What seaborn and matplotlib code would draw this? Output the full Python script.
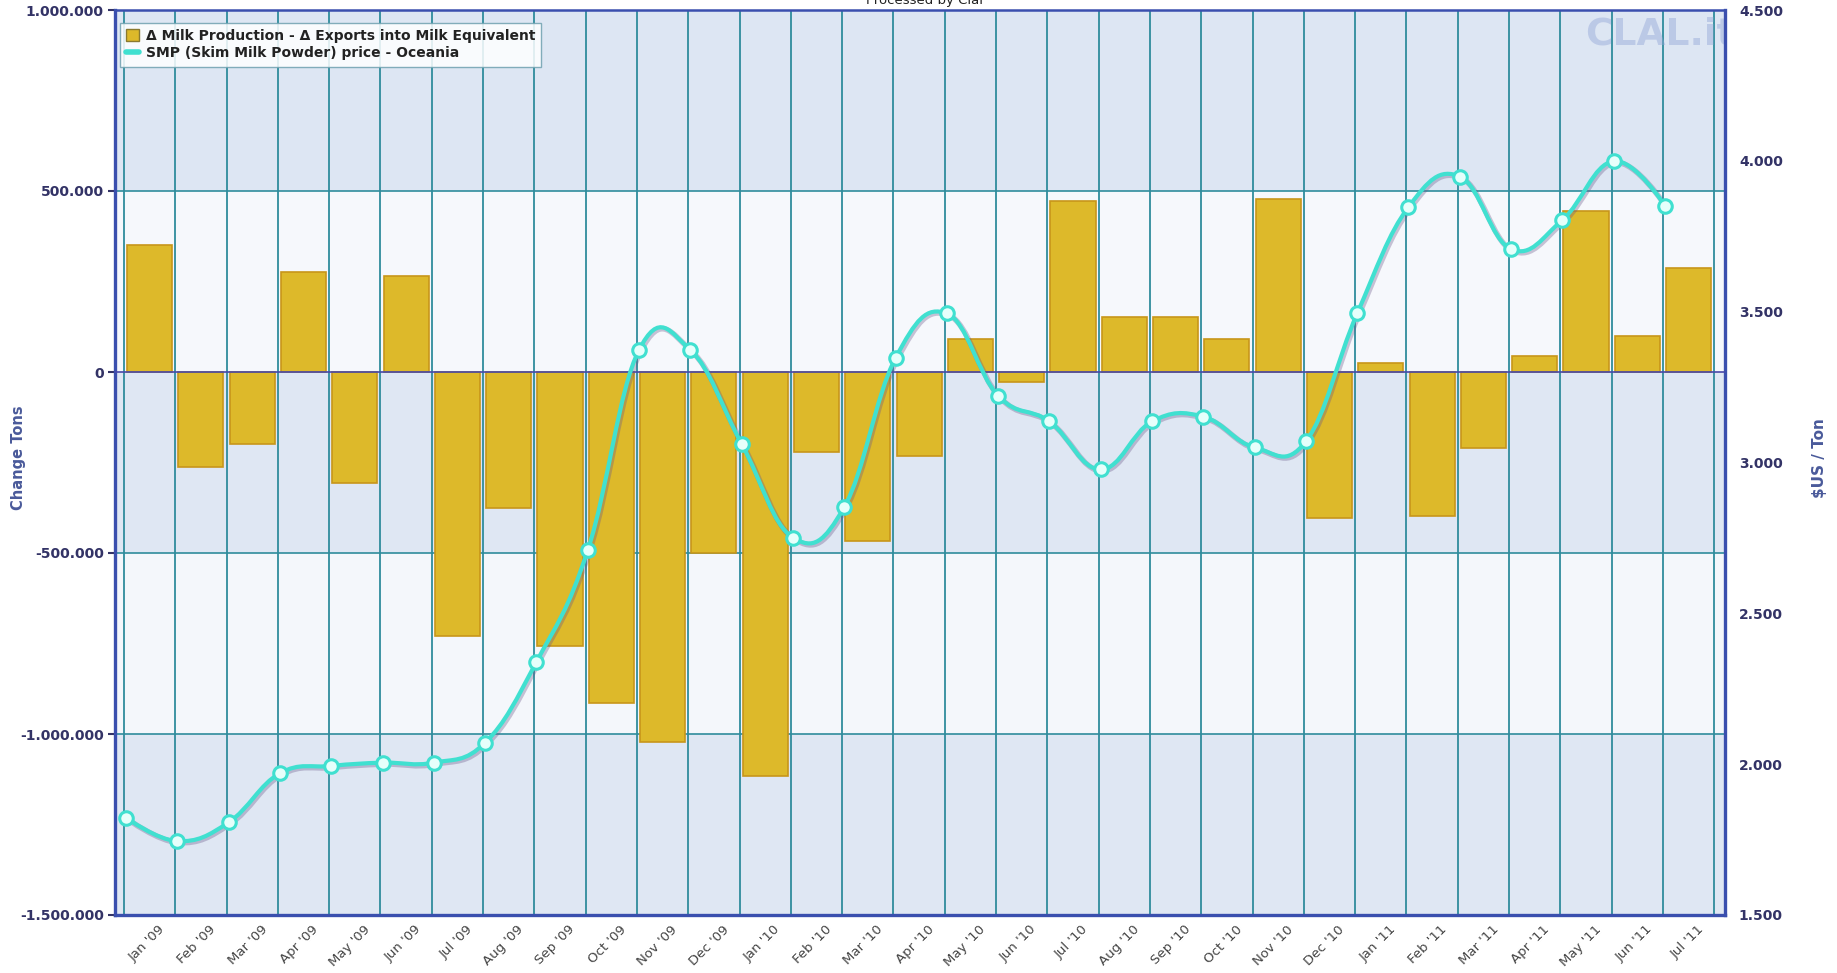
import numpy as np
import pandas as pd
import seaborn as sns
import matplotlib.pyplot as plt
from matplotlib.path import Path
from matplotlib.patches import PathPatch, Patch
from matplotlib.lines import Line2D
from matplotlib.ticker import FuncFormatter, FixedLocator
import matplotlib.transforms as mtransforms

## data
months = ["Jan '09", "Feb '09", "Mar '09", "Apr '09", "May '09", "Jun '09", "Jul '09",
          "Aug '09", "Sep '09", "Oct '09", "Nov '09", "Dec '09", "Jan '10", "Feb '10",
          "Mar '10", "Apr '10", "May '10", "Jun '10", "Jul '10", "Aug '10", "Sep '10",
          "Oct '10", "Nov '10", "Dec '10", "Jan '11", "Feb '11", "Mar '11", "Apr '11",
          "May '11", "Jun '11", "Jul '11"]
# delta milk production - delta exports (tons)
balance = [350000, -262000, -198000, 275000, -308000, 265000, -729000,
           -376000, -758000, -913000, -1023000, -499000, -1117000, -220000,
           -466000, -233000, 91000, -29000, 473000, 152000, 152000,
           91000, 479000, -402000, 26000, -398000, -210000, 45000,
           444000, 100000, 288000]
# SMP price Oceania ($US / ton)
smp_price = [1823, 1745, 1807, 1970, 1994, 2005, 2005,
             2071, 2339, 2709, 3373, 3373, 3062, 2751,
             2852, 3346, 3494, 3221, 3136, 2977, 3136,
             3152, 3050, 3070, 3494, 3847, 3948, 3707,
             3804, 3999, 3851]
left_ticks = [-1500000, -1000000, -500000, 0, 500000, 1000000]
right_ticks = [1500, 2000, 2500, 3000, 3500, 4000, 4500]

df = pd.DataFrame({"month": months, "balance": balance, "price": smp_price})

sns.set_style("white")
plt.rcParams['font.family'] = ['DejaVu Sans']

navy = '#333366'
axis_blue = '#3a4fae'
grid_teal = '#2f8c9c'
bar_fill = '#DDB92A'
bar_edge = '#C8961A'
line_cyan = '#40E0D0'

fig = plt.figure(figsize=(18.37, 9.73), dpi=100)
ax = fig.add_axes([115 / 1837, 58 / 973, 1610 / 1837, 905 / 973])

# alternating horizontal bands
band_cols = ['#dfe7f3', '#f4f7fb', '#dfe7f3', '#f6f8fc', '#dde6f3']
for k in range(5):
    ax.axhspan(left_ticks[k], left_ticks[k + 1], color=band_cols[k], zorder=0, lw=0)

# bars
sns.barplot(data=df, x="month", y="balance", ax=ax, color=bar_fill, saturation=1,
            width=0.88, edgecolor=bar_edge, linewidth=1.2, zorder=3)

# grid lines
n = len(months)
for b in np.arange(n + 1) - 0.5:
    ax.axvline(b, color=grid_teal, lw=1.3, zorder=1)
for t in left_ticks[1:-1]:
    ax.axhline(t, color=grid_teal if t != 0 else '#4848a8', lw=1.2, zorder=1 if t != 0 else 4)

ax.set_xlim(-0.675, n - 0.29)
ax.set_ylim(-1500000, 1000000)
ax.set_yticks(left_ticks)
ax.yaxis.set_major_formatter(FuncFormatter(lambda v, p: f"{int(v):,}".replace(",", ".")))
ax.tick_params(axis='y', length=5, width=1.5, color=navy, labelsize=10, labelcolor=navy, pad=3)
for lab in ax.get_yticklabels():
    lab.set_fontweight('bold')

ax.set_xticks(range(n))
ax.set_xticklabels(months, rotation=45, ha='right', va='center', rotation_mode='anchor',
                   fontsize=9.5, color='#444444')
ax.xaxis.set_minor_locator(FixedLocator(np.arange(n + 1) - 0.5))
ax.tick_params(axis='x', which='major', length=0, pad=9)
ax.tick_params(axis='x', which='minor', length=6, width=1.3, color='#555577')
offset = mtransforms.ScaledTranslation(13 / 100, 0, fig.dpi_scale_trans)
for lab in ax.get_xticklabels():
    lab.set_transform(lab.get_transform() + offset)

ax.set_xlabel('')
ax.set_ylabel('Change Tons', fontsize=10.5, fontweight='bold', color='#4a5a9a')
ax.yaxis.set_label_coords(-0.055, 0.505)

for side in ['left', 'bottom', 'right']:
    ax.spines[side].set_color(axis_blue)
    ax.spines[side].set_linewidth(2.4)
ax.spines['top'].set_color(axis_blue)
ax.spines['top'].set_linewidth(1.8)

# watermark
ax.text(0.913, 0.993, 'CLAL.it', transform=ax.transAxes, ha='left', va='top',
        fontsize=27, fontweight='bold', color='#93a6d8', alpha=0.45, clip_on=True, zorder=2)

# price line on the right axis (Highcharts-style spline)
ax2 = ax.twinx()
px = np.arange(n) - 0.46
py = np.array(smp_price, dtype=float)
smooth = 1.5
den = smooth + 1
lc = [(px[i], py[i]) for i in range(n)]
rc = [(px[i], py[i]) for i in range(n)]
for i in range(1, n - 1):
    lx = (smooth * px[i] + px[i - 1]) / den
    ly = (smooth * py[i] + py[i - 1]) / den
    rx = (smooth * px[i] + px[i + 1]) / den
    ry = (smooth * py[i] + py[i + 1]) / den
    corr = (ry - ly) * (rx - px[i]) / (rx - lx) + py[i] - ry
    lc[i] = (lx, ly + corr)
    rc[i] = (rx, ry + corr)
verts = [(px[0], py[0])]
codes = [Path.MOVETO]
for i in range(1, n):
    verts += [rc[i - 1], lc[i], (px[i], py[i])]
    codes += [Path.CURVE4] * 3
spline = Path(verts, codes)

shadow_tr = ax2.transData + mtransforms.ScaledTranslation(1.5 / 100, -1.5 / 100, fig.dpi_scale_trans)
ax2.add_patch(PathPatch(spline, facecolor='none', edgecolor='#6a5a8a', lw=4, alpha=0.35,
                        transform=shadow_tr, zorder=5))
ax2.add_patch(PathPatch(spline, facecolor='none', edgecolor=line_cyan, lw=3.0, zorder=6))
sns.scatterplot(x=px, y=py, ax=ax2, s=95, color='#e6fffb', edgecolor=line_cyan,
                linewidth=2.2, zorder=7)

ax2.set_ylim(1500, 4500)
ax2.set_yticks(right_ticks)
ax2.yaxis.set_major_formatter(FuncFormatter(lambda v, p: f"{int(v):,}".replace(",", ".")))
ax2.tick_params(axis='y', length=0, labelsize=10, labelcolor=navy, pad=10)
for lab in ax2.get_yticklabels():
    lab.set_fontweight('bold')
ax2.set_ylabel('$US / Ton', fontsize=11, fontweight='bold', color='#4a5a9a', rotation=90)
ax2.yaxis.set_label_coords(1.054, 0.505)
for side in ax2.spines:
    ax2.spines[side].set_visible(False)

# legend
handles = [Patch(facecolor=bar_fill, edgecolor='#8a7a30', lw=1.0),
           Line2D([0], [0], color=line_cyan, lw=4)]
labels = ['\u0394 Milk Production - \u0394 Exports into Milk Equivalent',
          'SMP (Skim Milk Powder) price - Oceania']
leg = ax2.legend(handles, labels, loc='upper left', bbox_to_anchor=(0.003, 0.986),
                 borderaxespad=0, fancybox=False, framealpha=0.85, edgecolor='#6fa0b0',
                 prop={'size': 10, 'weight': 'bold'}, handlelength=0.9, handleheight=0.9,
                 handletextpad=0.5, labelspacing=0.25, borderpad=0.45)
leg.get_frame().set_linewidth(1.0)
leg.set_zorder(10)
for txt in leg.get_texts():
    txt.set_color('#222222')

# title sits mostly above the canvas, as in the original export
fig.text(925 / 1837, 1 - 4 / 973, 'Processed by Clal', ha='center', va='baseline',
         fontsize=9.5, color='#222222')

fig.savefig('out.png', dpi=100)
